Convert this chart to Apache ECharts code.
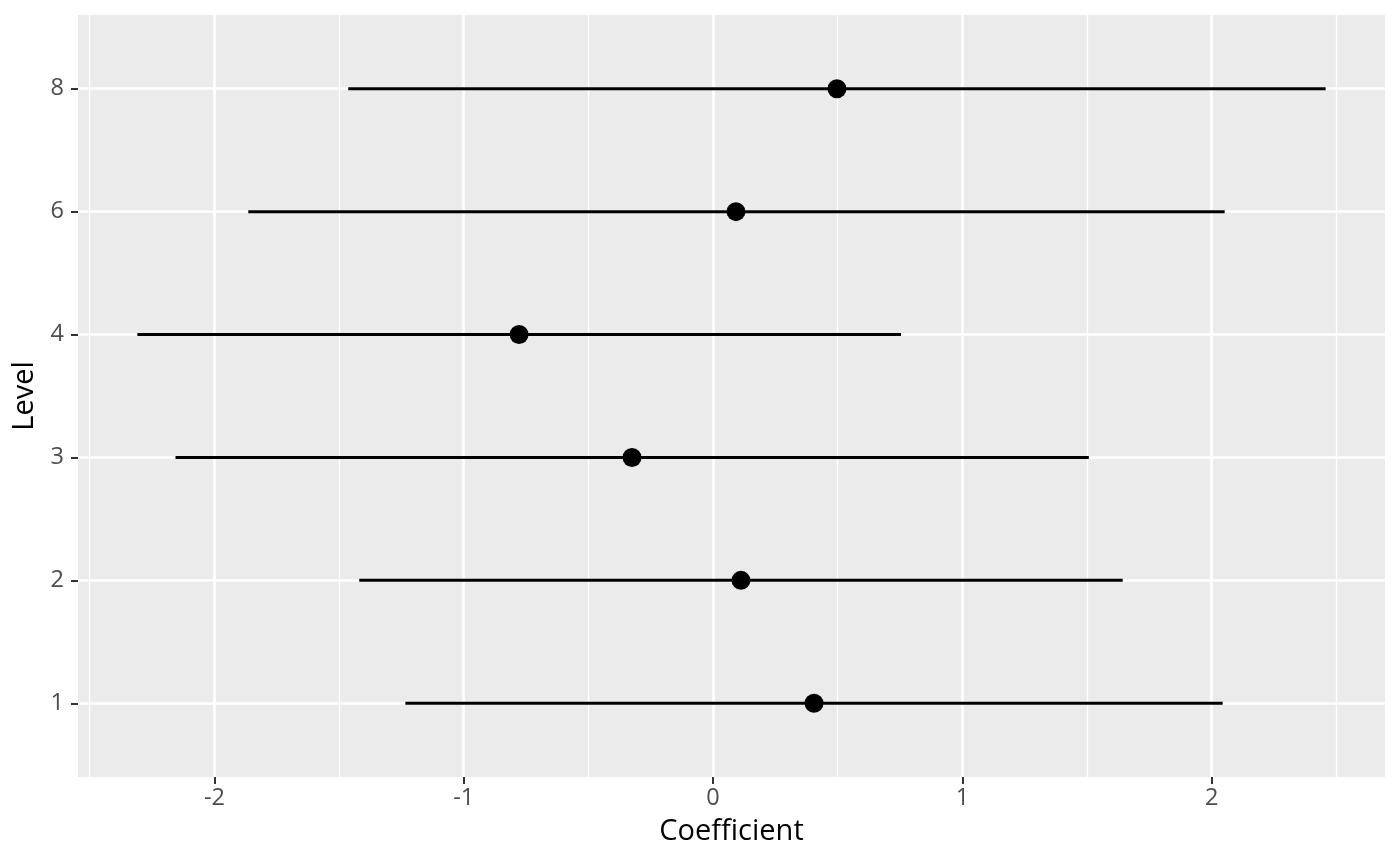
<!DOCTYPE html>
<html>
<head>
<meta charset="utf-8">
<script src="https://cdn.jsdelivr.net/npm/echarts@6/dist/echarts.min.js"></script>
<style>
html,body{margin:0;padding:0;background:#fff;}
#chart{width:1400px;height:866px;}
</style>
</head>
<body>
<div id="chart"></div>
<script>
const levels = ['1', '2', '3', '4', '6', '8'];
const estimates = [0.405, 0.112, -0.325, -0.778, 0.092, 0.497];
const lowerCI = [-1.234, -1.419, -2.156, -2.309, -1.864, -1.463];
const upperCI = [2.044, 1.643, 1.507, 0.754, 2.052, 2.457];
const xTicks = [-2, -1, 0, 1, 2];
const xMinorTicks = [-2.5, -1.5, -0.5, 0.5, 1.5, 2.5];
const yTicks = [1, 2, 3, 4, 5, 6];

const font = '"Open Sans", "Noto Sans", sans-serif';
const chart = echarts.init(document.getElementById('chart'), null, {renderer: 'canvas'});

const pointData = levels.map((l, i) => [estimates[i], i + 1]);
const barData = levels.map((l, i) => [lowerCI[i], upperCI[i], i + 1]);

const X_MIN = -2.547, X_MAX = 2.695;

chart.setOption({
  animation: false,
  grid: {
    left: 78, right: 15, top: 15, bottom: 89,
    show: true, backgroundColor: '#EBEBEB', borderWidth: 0
  },
  xAxis: [
    {
      type: 'value',
      min: X_MIN, max: X_MAX,
      name: 'Coefficient',
      nameLocation: 'middle',
      nameGap: 40,
      nameTextStyle: {fontFamily: font, fontSize: 29, color: '#000'},
      axisLine: {show: true, onZero: false, lineStyle: {color: 'rgba(0,0,0,0)', width: 0}},
      axisTick: {show: true, length: 7, lineStyle: {color: '#333', width: 2}, customValues: xTicks},
      axisLabel: {fontFamily: font, fontSize: 23.5, color: '#4D4D4D', margin: 9, customValues: xTicks,
        formatter: v => String(v)},
      splitLine: {show: true, lineStyle: {color: '#fff', width: 2.6}},
      z: 2
    },
    {
      type: 'value',
      min: X_MIN, max: X_MAX,
      position: 'bottom',
      axisLine: {show: false, onZero: false},
      axisTick: {show: false, customValues: xMinorTicks},
      axisLabel: {show: false, customValues: xMinorTicks},
      splitLine: {show: true, lineStyle: {color: '#fff', width: 1.3}},
      z: 1
    }
  ],
  yAxis: {
    type: 'value',
    min: 0.4, max: 6.6,
    position: 'left',
    name: 'Level',
    nameLocation: 'middle',
    nameGap: 37,
    nameRotate: 90,
    nameTextStyle: {fontFamily: font, fontSize: 29, color: '#000'},
    axisLine: {show: true, onZero: false, lineStyle: {color: 'rgba(0,0,0,0)', width: 0}},
    axisTick: {show: true, length: 7, lineStyle: {color: '#333', width: 2}, customValues: yTicks},
    axisLabel: {fontFamily: font, fontSize: 23.5, color: '#4D4D4D', margin: 14, customValues: yTicks,
      formatter: v => levels[Math.round(v) - 1] || ''},
    splitLine: {show: true, lineStyle: {color: '#fff', width: 2.6}}
  },
  series: [
    {
      type: 'custom',
      data: barData,
      encode: {x: [0, 1], y: 2},
      renderItem: function (params, api) {
        const p1 = api.coord([api.value(0), api.value(2)]);
        const p2 = api.coord([api.value(1), api.value(2)]);
        return {
          type: 'line',
          shape: {x1: p1[0], y1: p1[1], x2: p2[0], y2: p2[1]},
          style: {stroke: '#000', lineWidth: 3}
        };
      },
      z: 3
    },
    {
      type: 'scatter',
      data: pointData,
      symbol: 'circle',
      symbolSize: 19,
      itemStyle: {color: '#000', opacity: 1},
      z: 4
    }
  ]
});
</script>
</body>
</html>
